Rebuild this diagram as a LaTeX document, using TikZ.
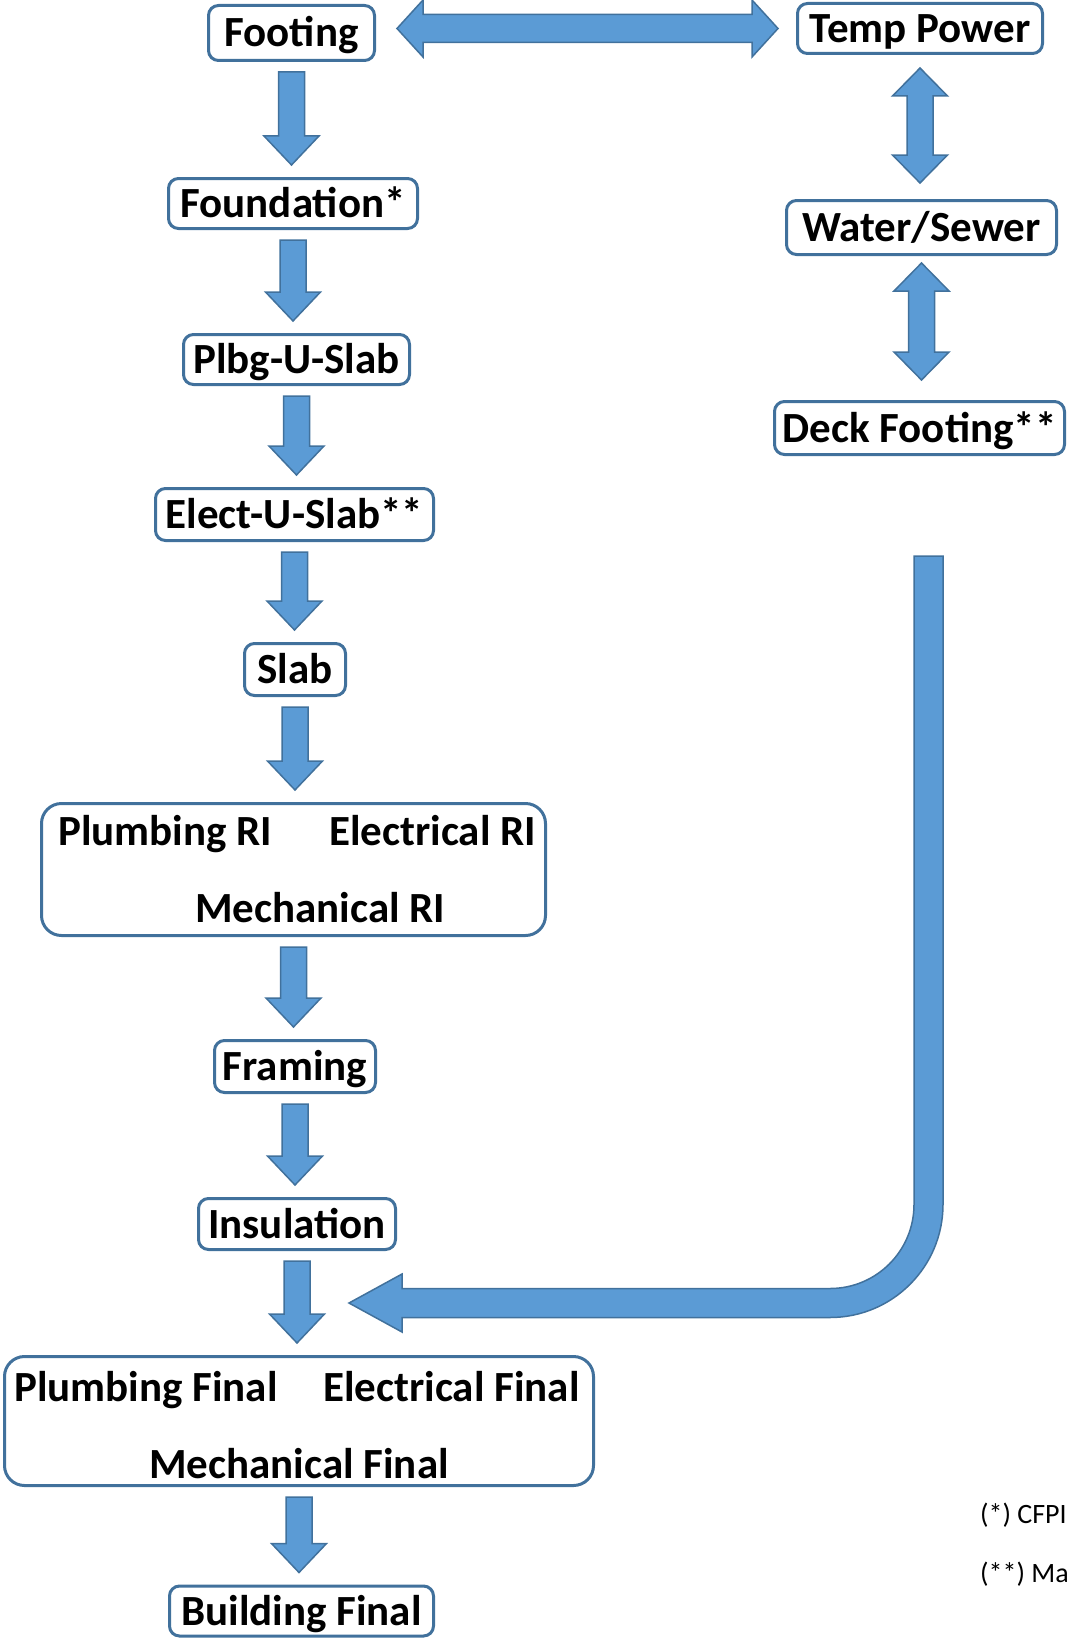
\documentclass[tikz,border=0pt]{standalone}
\usepackage{fontspec}
\setmainfont{Carlito}
\usetikzlibrary{calc}
\usetikzlibrary{positioning}

\definecolor{arrowfill}{HTML}{5B9BD5}
\definecolor{arrowline}{HTML}{41719C}

\tikzset{
  stage/.style={draw=arrowline, line width=3pt, rounded corners=10pt, fill=white, inner sep=0pt,
    font=\bfseries\fontsize{43}{50}\selectfont, text height=30pt, text depth=2pt},
  stagewide/.style={draw=arrowline, line width=3pt, rounded corners=20pt, fill=white},
  stagetext/.style={font=\bfseries\fontsize{43}{50}\selectfont, inner sep=0pt, anchor=base west},
  blockarrow/.style={fill=arrowfill, draw=arrowline, line width=1.5pt},
  note/.style={font=\fontsize{28}{34}\selectfont, inner sep=0pt, anchor=base west},
}

\newcommand{\flowdown}[2]{%
  \draw[blockarrow] let \p1=($(#1.south)+(0,-10)$), \p2=($(#2.north)+(0,12)$) in
    (\x1-13pt,\y1) -- (\x1-13pt,\y2+29pt) -- (\x1-27.5pt,\y2+29pt) -- (\x1,\y2)
    -- (\x1+27.5pt,\y2+29pt) -- (\x1+13pt,\y2+29pt) -- (\x1+13pt,\y1) -- cycle;}
\newcommand{\flowboth}[4]{%
  \draw[blockarrow] let \p1=($(#1.south)+(0,-#3)$), \p2=($(#2.north)+(0,#4)$) in
    (\x1,\y1) -- (\x1+27.5pt,\y1-28pt) -- (\x1+13pt,\y1-28pt) -- (\x1+13pt,\y2+28pt)
    -- (\x1+27.5pt,\y2+28pt) -- (\x1,\y2) -- (\x1-27.5pt,\y2+28pt) -- (\x1-13pt,\y2+28pt)
    -- (\x1-13pt,\y1-28pt) -- (\x1-27.5pt,\y1-28pt) -- cycle;}

\begin{document}
\begin{tikzpicture}[x=1pt,y=1pt]
\useasboundingbox (0,0) rectangle (1067,-1643);

\node[stage, minimum width=166pt, minimum height=55pt] (footing) at (291.5,-33) {Footing};
\node[stage, minimum width=245pt, minimum height=50pt] (temppower) at (920,-28.5) {Temp Power};
\node[stage, minimum width=249pt, minimum height=50pt] (foundation) at (293,-203.5) {Foundation*};
\node[stage, minimum width=226pt, minimum height=50pt] (plbgslab) at (296.5,-359.5) {Plbg-U-Slab};
\node[stage, minimum width=278pt, minimum height=52pt] (electslab) at (294.5,-514.5) {Elect-U-Slab**};
\node[stage, minimum width=101pt, minimum height=52pt] (slab) at (295,-669.5) {Slab};
\node[stagewide, minimum width=504pt, minimum height=132pt] (roughin) at (293.5,-869.5) {};
\node[stage, minimum width=161pt, minimum height=52pt] (framing) at (295,-1066.5) {Framing};
\node[stage, minimum width=197pt, minimum height=51pt] (insulation) at (297,-1224) {Insulation};
\node[stagewide, minimum width=589pt, minimum height=129pt] (finals) at (299,-1421) {};
\node[stage, minimum width=264pt, minimum height=50pt] (building) at (301.5,-1611) {Building Final};
\node[stage, minimum width=270pt, minimum height=54pt] (watersewer) at (921.5,-227.5) {Water/Sewer};
\node[stage, minimum width=290pt, minimum height=53pt] (deck) at (919.5,-428) {Deck Footing**};

\node[stagetext] (plumbri) at (58,-845) {Plumbing RI};
\node[stagetext] (elecri) at (329,-845) {Electrical RI};
\node[stagetext] (mechri) at (195,-922) {Mechanical RI};
\node[stagetext] (plumbfin) at (14,-1401) {Plumbing Final};
\node[stagetext] (elecfin) at (323,-1401) {Electrical Final};
\node[stagetext] (mechfin) at (149,-1478) {Mechanical Final};

\flowdown{footing}{foundation}
\flowdown{foundation}{plbgslab}
\flowdown{plbgslab}{electslab}
\flowdown{electslab}{slab}
\flowdown{slab}{roughin}
\flowdown{roughin}{framing}
\flowdown{framing}{insulation}
\flowdown{insulation}{finals}
\flowdown{finals}{building}

\flowboth{temppower}{watersewer}{13}{16}
\flowboth{watersewer}{deck}{7}{20}

\draw[blockarrow] let \p1=($(footing.east)+(21,0)$), \p2=($(temppower.west)+(-18,0)$) in
  (\x1,\y2) -- (\x1+26pt,\y2+28.5pt) -- (\x1+26pt,\y2+14pt) -- (\x2-26pt,\y2+14pt)
  -- (\x2-26pt,\y2+28.5pt) -- (\x2,\y2) -- (\x2-26pt,\y2-28.5pt) -- (\x2-26pt,\y2-14pt)
  -- (\x1+26pt,\y2-14pt) -- (\x1+26pt,\y2-28.5pt) -- cycle;

\coordinate (deckdrop) at (928.5,-556);
\coordinate (finalsin) at (349,-1303);
\draw[blockarrow] let \p1=(deckdrop), \p2=(finalsin) in
  (\x1+14.5pt,\y1) -- (\x1+14.5pt,\y2+98.5pt) arc[start angle=0, end angle=-90, radius=113pt]
  -- (\x2+53pt,\y2-14.5pt) -- (\x2+53pt,\y2-29pt) -- (\x2,\y2) -- (\x2+53pt,\y2+29pt)
  -- (\x2+53pt,\y2+14.5pt) -- (\x1-98.5pt,\y2+14.5pt) arc[start angle=-90, end angle=0, radius=84pt]
  -- (\x1-14.5pt,\y1) -- cycle;

\node[note] (note1) at (980,-1523) {(*) CFPI};
\node[note] (note2) at (980,-1582) {(**) Ma};
\end{tikzpicture}
\end{document}
